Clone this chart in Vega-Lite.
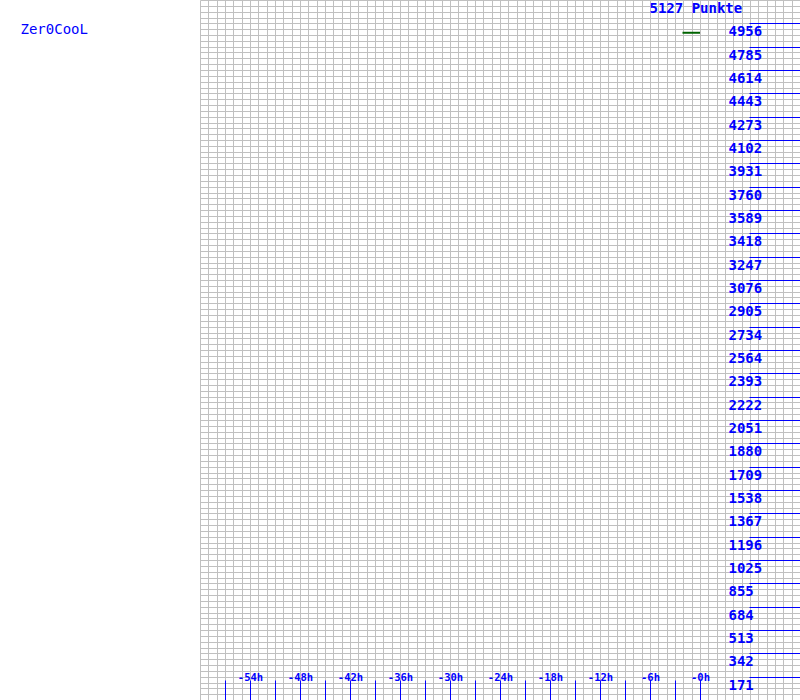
{
  "$schema": "https://vega.github.io/schema/vega-lite/v6.json",
  "width": 600,
  "height": 700,
  "autosize": {"type": "none"},
  "padding": {"left": 200, "top": 0, "right": 0, "bottom": 0},
  "background": "white",
  "config": {
    "view": {"stroke": null},
    "axis": {
      "labelFont": "DejaVu Sans Mono",
      "titleFont": "DejaVu Sans Mono",
      "labelColor": "#0000ff",
      "titleColor": "#0000ff",
      "gridColor": "#c0c0c0",
      "gridOpacity": 1,
      "gridWidth": 1,
      "tickColor": "#0000ff",
      "tickWidth": 1,
      "domain": false,
      "titleFontWeight": "normal"
    }
  },
  "data": {"values": [{"stunde": -2.1, "punkte": 4887}, {"stunde": 0, "punkte": 4887}]},
  "resolve": {"axis": {"x": "independent", "y": "independent"}},
  "layer": [
    {
      "mark": {"type": "line", "color": "#006400", "strokeWidth": 2, "strokeCap": "butt"},
      "encoding": {
        "x": {
          "field": "stunde",
          "type": "quantitative",
          "scale": {"domain": [-60, 12], "nice": false, "zero": false},
          "axis": {
            "orient": "top",
            "grid": true,
            "values": [-60,-59,-58,-57,-56,-55,-54,-53,-52,-51,-50,-49,-48,-47,-46,-45,-44,-43,-42,-41,-40,-39,-38,-37,-36,-35,-34,-33,-32,-31,-30,-29,-28,-27,-26,-25,-24,-23,-22,-21,-20,-19,-18,-17,-16,-15,-14,-13,-12,-11,-10,-9,-8,-7,-6,-5,-4,-3,-2,-1,0,1,2,3,4,5,6,7,8,9,10,11,12],
            "ticks": false,
            "labels": false,
            "title": "5127 Punkte",
            "titleFontSize": 14,
            "titleFontWeight": "bold",
            "titleX": 449,
            "titleY": 12,
            "titleAlign": "left",
            "titleBaseline": "alphabetic",
            "titleAngle": 0
          }
        },
        "y": {
          "field": "punkte",
          "type": "quantitative",
          "scale": {"domain": [0, 5127], "nice": false, "zero": true},
          "axis": {
            "orient": "left",
            "grid": true,
            "values": [0,42.725,85.45,128.175,170.9,213.625,256.35,299.075,341.8,384.525,427.25,469.975,512.7,555.425,598.15,640.875,683.6,726.325,769.05,811.775,854.5,897.225,939.95,982.675,1025.4,1068.125,1110.85,1153.575,1196.3,1239.025,1281.75,1324.475,1367.2,1409.925,1452.65,1495.375,1538.1,1580.825,1623.55,1666.275,1709,1751.725,1794.45,1837.175,1879.9,1922.625,1965.35,2008.075,2050.8,2093.525,2136.25,2178.975,2221.7,2264.425,2307.15,2349.875,2392.6,2435.325,2478.05,2520.775,2563.5,2606.225,2648.95,2691.675,2734.4,2777.125,2819.85,2862.575,2905.3,2948.025,2990.75,3033.475,3076.2,3118.925,3161.65,3204.375,3247.1,3289.825,3332.55,3375.275,3418,3460.725,3503.45,3546.175,3588.9,3631.625,3674.35,3717.075,3759.8,3802.525,3845.25,3887.975,3930.7,3973.425,4016.15,4058.875,4101.6,4144.325,4187.05,4229.775,4272.5,4315.225,4357.95,4400.675,4443.4,4486.125,4528.85,4571.575,4614.3,4657.025,4699.75,4742.475,4785.2,4827.925,4870.65,4913.375,4956.1,4998.825,5041.55,5084.275,5127],
            "ticks": false,
            "labels": false,
            "title": "Zer0CooL",
            "titleFontSize": 14,
            "titleFontWeight": "normal",
            "titleAngle": 0,
            "titleX": -180,
            "titleY": 33,
            "titleAlign": "left",
            "titleBaseline": "alphabetic"
          }
        }
      }
    },
    {
      "mark": {"type": "point", "opacity": 0},
      "encoding": {
        "x": {
          "field": "stunde",
          "type": "quantitative",
          "axis": {
            "orient": "bottom",
            "zindex": 1,
            "grid": false,
            "values": [-57,-54,-51,-48,-45,-42,-39,-36,-33,-30,-27,-24,-21,-18,-15,-12,-9,-6,-3,0],
            "tickSize": -20,
            "labelExpr": "datum.value % 6 === 0 ? '-' + abs(datum.value) + 'h' : ''",
            "labelFontSize": 10.5,
            "labelFontWeight": "bold",
            "labelBaseline": "alphabetic",
            "labelPadding": 0,
            "labelFlush": false,
            "labelOverlap": false,
            "title": null
          }
        },
        "y": {
          "field": "punkte",
          "type": "quantitative",
          "axis": {
            "orient": "right",
            "zindex": 1,
            "grid": false,
            "values": [170.9,341.8,512.7,683.6,854.5,1025.4,1196.3,1367.2,1538.1,1709,1879.9,2050.8,2221.7,2392.6,2563.5,2734.4,2905.3,3076.2,3247.1,3418,3588.9,3759.8,3930.7,4101.6,4272.5,4443.4,4614.3,4785.2,4956.1],
            "format": ".0f",
            "tickSize": -51,
            "labelPadding": -21,
            "labelOffset": 12.5,
            "labelAlign": "left",
            "labelBaseline": "alphabetic",
            "labelFontSize": 14,
            "labelFontWeight": "bold",
            "labelFlush": false,
            "labelOverlap": false,
            "title": null
          }
        }
      }
    }
  ]
}
